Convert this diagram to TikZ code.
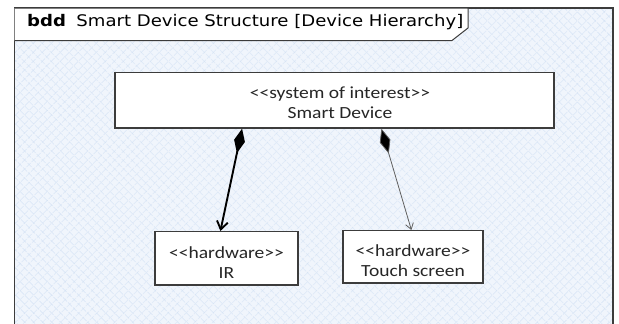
\documentclass[tikz,border=0pt]{standalone}
\usepackage{fontspec}
\setmainfont{Carlito}
\newfontfamily\titlefont[FakeStretch=1.13]{DejaVu Sans}
\newfontfamily\boxfont[FakeStretch=1.15]{Carlito}
\usetikzlibrary{arrows.meta,patterns.meta}
\definecolor{bgblue}{RGB}{240,245,252}
\definecolor{hatch}{RGB}{200,218,242}
\definecolor{framegray}{RGB}{60,60,60}
\definecolor{thingray}{RGB}{95,95,95}
\tikzset{
  blockbox/.style={draw=framegray, line width=1.2pt, fill=white, inner sep=0pt},
  blocktext/.style={font=\boxfont\fontsize{17}{20}\selectfont, align=center, inner sep=0pt, text=black!85},
  compthick/.style={line width=1.9pt, {Diamond[length=25pt,width=11pt,fill=black]}-{Straight Barb[length=8pt,width=11pt]}},
  compthin/.style={line width=0.8pt, draw=thingray, {Diamond[length=26pt,width=11pt,fill=black]}-{Straight Barb[length=6pt,width=8pt]}},
}
\begin{document}
\begin{tikzpicture}[x=1pt,y=-1pt]
\useasboundingbox (0,0) rectangle (619,324);
\fill[white] (0,0) rectangle (619,324);
% patterned background
\fill[bgblue] (14.5,8) rectangle (613,324);
\fill[pattern={Lines[angle=45,distance=6.4pt,line width=0.6pt]},pattern color=hatch] (14.5,8) rectangle (613,324);
\fill[pattern={Lines[angle=-45,distance=6.4pt,line width=0.6pt]},pattern color=hatch] (14.5,8) rectangle (613,324);
% frame
\draw[framegray, line width=1.4pt] (14.5,324) -- (14.5,8) -- (613,8) -- (613,324);
% header tab
\draw[framegray, line width=1pt, fill=white] (14.5,8) -- (468,8) -- (468,28) -- (452,40.5) -- (14.5,40.5);
\node[anchor=base west, inner sep=0pt, font=\titlefont\fontsize{16}{19}\selectfont] (title) at (27,26.7)
  {\textbf{bdd}\hspace{0.65em}Smart Device Structure [Device Hierarchy]};
% blocks
\node[blockbox, minimum width=439pt, minimum height=55.3pt] (sd) at (334.5,100.4) {};
\node[blocktext] (sdtext) at (340,103) {<{}<system of interest>{}>\\Smart Device};
\node[blockbox, minimum width=143pt, minimum height=53.3pt] (ir) at (226.5,258.3) {};
\node[blocktext] (irtext) at (226.5,262.2) {<{}<hardware>{}>\\IR};
\node[blockbox, minimum width=140pt, minimum height=52.3pt] (tc) at (413,256.8) {};
\node[blocktext] (tctext) at (413,260.5) {<{}<hardware>{}>\\Touch screen};
% connectors
\draw[compthick] ([xshift=127.7pt]sd.south west) -- ([xshift=66pt]ir.north west);
\draw[compthin] ([xshift=267pt]sd.south west) -- ([xshift=69pt]tc.north west);
\end{tikzpicture}
\end{document}
